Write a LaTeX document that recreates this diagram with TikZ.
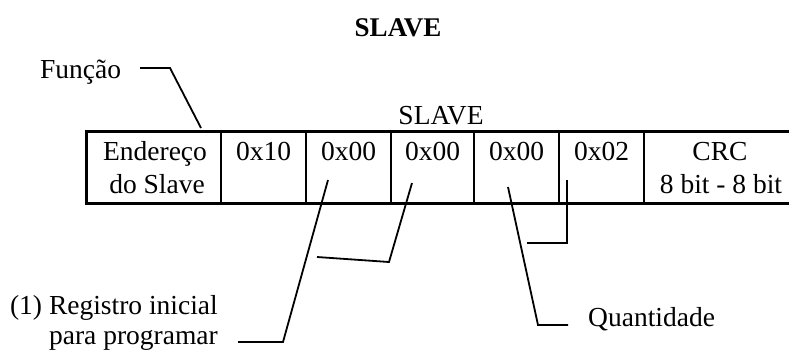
\documentclass[tikz,border=0pt]{standalone}
\usepackage{fontspec}
\setmainfont{Liberation Serif}
\begin{document}
\begin{tikzpicture}[x=1pt,y=-1pt,
  lbl/.style={font=\fontsize{27.5}{33}\selectfont, inner sep=0pt},
  ttl/.style={font=\fontsize{27}{33}\selectfont\bfseries, inner sep=0pt},
  border/.style={line width=3pt},
  divider/.style={line width=2pt},
  lead/.style={line width=1.8pt}]
\useasboundingbox (0,0) rectangle (789,351);
\clip (0,0) rectangle (789,351);
% title
\node[ttl, anchor=base] (title) at (398,36) {SLAVE};
\node[lbl, anchor=base] (slave) at (441,124) {SLAVE};
% table
\draw[border] (800,131) -- (86,131) -- (86,203) -- (800,203);
\foreach \x in {221,306,391,474,559,644}
  \draw[divider] (\x,131) -- (\x,203);
% cell texts
\node[lbl, anchor=base] (end1) at (155,160) {Endereço};
\node[lbl, anchor=base] (end2) at (157,193) {do Slave};
\node[lbl, anchor=base] (fn) at (263.5,160) {0x10};
\node[lbl, anchor=base] (r1) at (348.5,160) {0x00};
\node[lbl, anchor=base] (r2) at (432.5,160) {0x00};
\node[lbl, anchor=base] (q1) at (516.5,160) {0x00};
\node[lbl, anchor=base] (q2) at (601.5,160) {0x02};
\node[lbl, anchor=base] (crc1) at (720,160) {CRC};
\node[lbl, anchor=base] (crc2) at (721,193) {8 bit - 8 bit};
% labels
\node[lbl, anchor=base west] (funcao) at (40,78) {Função};
\node[lbl, anchor=base east] (reg1) at (218,314) {(1) Registro inicial};
\node[lbl, anchor=base east] (reg2) at (218,344) {para programar};
\node[lbl, anchor=base west] (quant) at (588,326) {Quantidade};
% leader coordinates
\coordinate (f0) at (140,68);
\coordinate (f1) at (170,68);
\coordinate (f2) at (201,128);
\coordinate (a0) at (328,180);
\coordinate (a1) at (283,342);
\coordinate (a2) at (238,342);
\coordinate (b0) at (412,183);
\coordinate (b1) at (389,262);
\coordinate (b2) at (317,257);
\coordinate (c0) at (508,187);
\coordinate (c1) at (538,325);
\coordinate (c2) at (568,325);
\coordinate (d0) at (567,180);
\coordinate (d1) at (567,243);
\coordinate (d2) at (527,243);
% leaders
\draw[lead] (f0) -- (f1) -- (f2);
\draw[lead] (a0) -- (a1) -- (a2);
\draw[lead] (b0) -- (b1) -- (b2);
\draw[lead] (c0) -- (c1) -- (c2);
\draw[lead] (d0) -- (d1) -- (d2);
\end{tikzpicture}
\end{document}
